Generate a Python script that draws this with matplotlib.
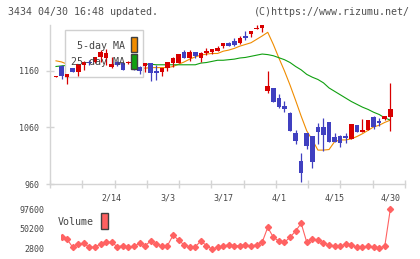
import numpy as np
import matplotlib
matplotlib.use('Agg')
import matplotlib.pyplot as plt
import matplotlib.transforms as mtransforms
from matplotlib.patches import Rectangle

plt.rcParams['font.family'] = ['DejaVu Sans Mono']

# daily candles, 1/30 .. 4/30 (61 trading days)
opens = [1150, 1169, 1150, 1166, 1159, 1170, 1176, 1176.5, 1185, 1182.5,
         1166.5, 1176, 1175, 1173.6, 1176, 1167.6, 1169, 1173.6, 1160, 1157.7,
         1164.8, 1175, 1175, 1193, 1182.5, 1193, 1183.5, 1192.4, 1193, 1196,
         1204.8, 1210, 1213, 1209, 1222, 1225, 1235, 1235.6, 1124.6, 1129.4,
         1111.7, 1098, 1086, 1050.8, 1001, 1050.8, 1045, 1060.4, 1060.4, 1069,
         1043.7, 1045, 1045, 1039, 1064.4, 1052.6, 1055.6, 1079, 1072, 1075, 1078]
closes = [1151, 1151, 1154.7, 1158.8, 1172.4, 1176.5, 1175, 1184, 1194, 1191,
          1172.4, 1170, 1161.8, 1176, 1170, 1160, 1173.6, 1156, 1156.5, 1164.8,
          1175.4, 1183.5, 1189.6, 1183.5, 1193, 1187, 1192.4, 1195.4, 1198.4, 1201,
          1209.6, 1205, 1206, 1219, 1219, 1230.8, 1235.5, 1241, 1133.5, 1105.7,
          1095.8, 1092.7, 1054, 1036.6, 980, 1027, 999.5, 1052.6, 1046.7, 1035,
          1035, 1032, 1041, 1066, 1052.6, 1055.6, 1073, 1060.4, 1067.4, 1080, 1092.7]
highs = [1151, 1170, 1155, 1166, 1173, 1177, 1180, 1184, 1198, 1199,
         1184, 1178, 1176, 1177, 1185, 1168, 1174, 1174, 1170.6, 1165,
         1176, 1184, 1190, 1197, 1197, 1194, 1193, 1201, 1199, 1205,
         1210, 1212, 1218, 1222.6, 1230.8, 1231, 1241, 1241, 1160, 1130,
         1119, 1107, 1087, 1055.6, 1015.4, 1051, 1045, 1068.5, 1076, 1070,
         1049.7, 1046, 1050.8, 1066, 1065, 1074.5, 1073, 1080, 1077, 1081, 1139]
lows = [1150, 1146, 1136.5, 1158, 1151, 1161.8, 1171, 1173.6, 1176.5, 1170.6,
        1166, 1169, 1161, 1172, 1162, 1154, 1159, 1143, 1144, 1151.7,
        1160, 1166.5, 1174, 1183, 1178, 1183.5, 1176.5, 1188, 1190, 1195,
        1201, 1204, 1205, 1208, 1215, 1220.7, 1235, 1228.5, 1121.6, 1105,
        1095, 1088, 1053, 1030.8, 964, 1021.4, 988.8, 1030.8, 1018, 1034,
        1034, 1026, 1032, 1039, 1052, 1052, 1055, 1057, 1062.7, 1073, 1054]

ma5 = [1178, 1176, 1172, 1166, 1160, 1158, 1162, 1168, 1174, 1180,
       1182, 1180, 1176, 1172, 1168, 1165, 1165, 1166, 1166, 1166,
       1166, 1168, 1172, 1176, 1181, 1185, 1188, 1190, 1191, 1191,
       1195, 1197, 1200, 1204, 1207, 1210, 1216, 1222, 1228.5, 1207,
       1183, 1160, 1135, 1108, 1080, 1054, 1038, 1020, 1020, 1021,
       1035, 1038, 1038, 1040, 1044, 1049, 1055, 1061, 1064, 1069, 1073]
ma25 = [1168, 1169, 1170, 1170, 1170, 1170, 1170, 1170, 1170, 1170,
        1170, 1170, 1170, 1170, 1170, 1170, 1172, 1172, 1171, 1171,
        1171, 1171, 1171, 1171, 1171, 1171, 1174, 1175, 1177, 1179,
        1179, 1180, 1181, 1183, 1184, 1186, 1188, 1190, 1189, 1187,
        1183.5, 1180, 1175, 1168, 1162, 1154, 1149, 1145, 1139, 1130,
        1124, 1118, 1112, 1106, 1101, 1096, 1092, 1087, 1083, 1077, 1073]

volume = [28000, 32400, 25800, 6800, 13900, 16300, 6800, 6800, 15400, 18700,
          18700, 8250, 10600, 6800, 9400, 16300, 10600, 21760, 14000, 10600,
          10600, 35300, 24100, 12300, 8250, 8250, 21760, 10600, 2800, 6800,
          9400, 13200, 10600, 10600, 13200, 9400, 13200, 18700, 54200, 30500,
          21760, 18700, 30500, 45460, 63700, 18700, 26500, 24100, 16300, 13200,
          9400, 9400, 14650, 13200, 6800, 6800, 9400, 6800, 5170, 9400, 97600]

date_labels = ['2/14', '3/3', '3/17', '4/1', '4/15', '4/30']
date_idx = [10, 20, 30, 40, 50, 60]
price_ticks = [960, 1060, 1160]
vol_ticks = [2800, 50200, 97600]

W, H = 420, 259
def fx(x):
    return x / W
def fy(y):
    return 1 - y / H

red = '#d80000'
blue = '#4040c0'
grid = '#d4d4d4'
txt = '#454545'

fig = plt.figure(figsize=(4.2, 2.59), dpi=100)
ax = fig.add_axes([fx(50), fy(184), (405 - 50) / W, (184 - 25) / H])
idx = np.arange(len(opens))

# moving averages (under the legend box)
ax.plot(idx, ma5, color='#f08c00', lw=0.8, zorder=1)
ax.plot(idx, ma25, color='#10a010', lw=0.8, zorder=1)

# legend box
ax.add_patch(Rectangle((fx(65), fy(77)), (143 - 65) / W, (77 - 30) / H,
                       transform=fig.transFigure, facecolor='white',
                       edgecolor='#d0d0d0', lw=1.0, zorder=2, clip_on=False))
ax.text(fx(125), fy(45.7), '5-day MA', transform=fig.transFigure, ha='right',
        va='center', fontsize=7.2, color=txt, zorder=5)
ax.text(fx(125), fy(62.3), '25-day MA', transform=fig.transFigure, ha='right',
        va='center', fontsize=7.2, color=txt, zorder=5)
for y0, c in [(37.3, '#f08c00'), (54.3, '#10a010')]:
    ax.add_patch(Rectangle((fx(131), fy(y0 + 15)), 6.3 / W, 15 / H,
                           transform=fig.transFigure, facecolor=c,
                           edgecolor='#404040', lw=1.0, zorder=5, clip_on=False))

# candles
for i in idx:
    o, c, h, l = opens[i], closes[i], highs[i], lows[i]
    col = red if c >= o else blue
    ax.vlines(i, l, h, color=col, lw=0.9, zorder=3)
    body = max(abs(c - o), 1.8)
    ax.bar(i, body, bottom=min(o, c), width=0.82, color=col, lw=0, zorder=3)

ax.set_xlim(-1.077, 62.63)
ax.set_ylim(960, 1241.4)
for s in ['top', 'right']:
    ax.spines[s].set_visible(False)
for s in ['left', 'bottom']:
    ax.spines[s].set_color(grid)
    ax.spines[s].set_linewidth(1.0)
ax.set_xticks(np.linspace(-1.077, 62.63, 12))
ax.tick_params(axis='x', direction='inout', length=5.5, width=1.0,
               color=grid, labelbottom=False)
ax.set_yticks(price_ticks)
ax.set_yticklabels([str(v) for v in price_ticks])
ax.tick_params(axis='y', direction='inout', length=5.5, width=1.0,
               color=grid, labelsize=6, labelcolor=txt, pad=5)

trans = mtransforms.blended_transform_factory(ax.transData, fig.transFigure)
for lab, i in zip(date_labels, date_idx):
    ax.text(i, fy(198), lab, transform=trans, ha='center', va='center',
            fontsize=6, color=txt, clip_on=False)

# volume panel
vax = fig.add_axes([fx(61), fy(254), (405 - 61) / W, (254 - 203) / H])
vax.plot(idx, volume, color='#ff6262', lw=0.8, marker='D', ms=3.1,
         mfc='#ff6262', mec='#ff6262')
vax.set_xlim(0.897, 62.63)
vax.set_ylim(-9050, 111820)
for s in vax.spines.values():
    s.set_visible(False)
vax.set_xticks([])
vax.set_yticks(vol_ticks)
vax.set_yticklabels([str(v) for v in vol_ticks])
vax.tick_params(axis='y', length=0, labelsize=6, labelcolor=txt, pad=12)
vax.patch.set_alpha(0)

fig.text(fx(58), fy(222), 'Volume', ha='left', va='center', fontsize=7.2, color=txt)
fig.patches.append(Rectangle((fx(101), fy(228.7)), 6.7 / W, 16 / H,
                             transform=fig.transFigure, facecolor='#ff6060',
                             edgecolor='#404040', lw=1.0))

fig.text(fx(8), fy(12), '3434 04/30 16:48 updated.', ha='left', va='center',
         fontsize=7.2, color='#505050')
fig.text(fx(410), fy(12), '(C)https://www.rizumu.net/', ha='right', va='center',
         fontsize=7.2, color='#505050')

fig.savefig('out.png', dpi=100)
